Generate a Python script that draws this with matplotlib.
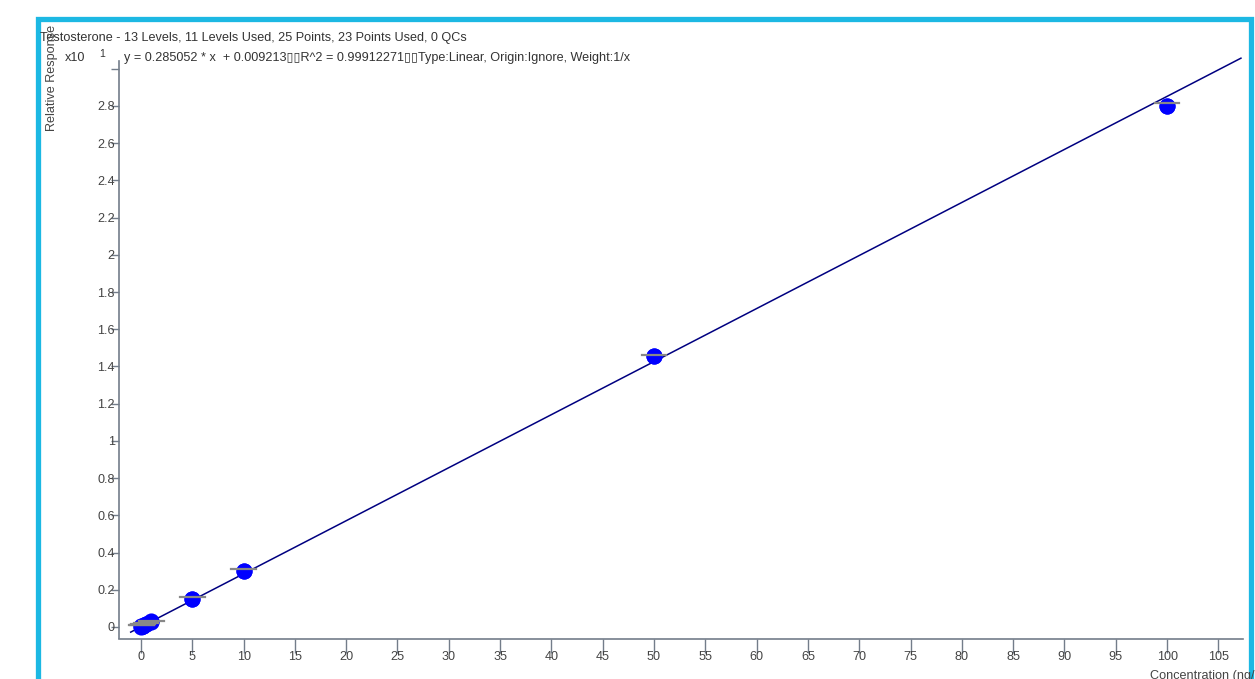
import matplotlib

matplotlib.use("Agg")
import matplotlib.pyplot as plt
from matplotlib.patches import Rectangle
import numpy as np

plt.rcParams["font.family"] = ["Liberation Sans", "DejaVu Sans"]

# calibration levels (ng/mL) and measured relative responses (raw units)
conc = [0.05, 0.05, 0.1, 0.1, 0.2, 0.2, 0.5, 0.5, 1, 1, 5, 5, 10, 10, 50, 50, 100, 100]
response = [0.02, 0.03, 0.03, 0.04, 0.07, 0.06, 0.15, 0.14, 0.29, 0.30,
            1.50, 1.49, 3.01, 3.02, 14.55, 14.56, 28.00, 28.01]

# level mean markers (gray bars)
level_conc = [0.05, 0.1, 0.2, 0.5, 1, 5, 10, 50, 100]
level_mean = [0.10, 0.12, 0.16, 0.22, 0.30, 1.61, 3.12, 14.60, 28.15]

slope = 0.285052
intercept = 0.009213
fit_range = [-1.0, 107.2]
scale = 10.0

x_ticks = list(range(0, 110, 5))
y_ticks = [0, 0.2, 0.4, 0.6, 0.8, 1, 1.2, 1.4, 1.6, 1.8, 2, 2.2, 2.4, 2.6, 2.8, 3.0]
y_labels = ["0", "0.2", "0.4", "0.6", "0.8", "1", "1.2", "1.4", "1.6", "1.8",
            "2", "2.2", "2.4", "2.6", "2.8", ""]

W, H = 1255, 679
fig = plt.figure(figsize=(W / 100, H / 100), dpi=100)
ax = fig.add_axes([119 / W, 1 - 639 / H, (1243 - 119) / W, (639 - 65) / H])

axis_col = "#737d8a"
text_col = "#444444"
fs = 9.1

fx = np.array(fit_range)
ax.plot(fx, (slope * fx + intercept) / scale, color="#000080", lw=1.1, zorder=2, clip_on=False)

ax.scatter(conc, np.array(response) / scale, s=135, color="#0000ff", zorder=3, linewidths=0)
for c, m in zip(level_conc, level_mean):
    ax.plot([c - 1.2, c + 1.2], [m / scale, m / scale], color="#888888", lw=1.6, zorder=4)

ax.set_xlim(-2.14, 107.4)
ax.set_ylim(-0.0645, 3.02)
ax.set_xticks(x_ticks)
ax.set_yticks(y_ticks)
ax.set_yticklabels(y_labels)

for side in ("top", "right"):
    ax.spines[side].set_visible(False)
for side in ("left", "bottom"):
    ax.spines[side].set_color(axis_col)
    ax.spines[side].set_linewidth(1.2)
ax.spines["left"].set_bounds(-0.058, 3.04)

ax.tick_params(axis="x", direction="out", length=10, width=1, color=axis_col,
               labelcolor=text_col, labelsize=fs, pad=-1)
ax.tick_params(axis="y", direction="out", length=6, width=1, color=axis_col,
               labelcolor=text_col, labelsize=fs, pad=-3)

fig.text(40 / W, 1 - 38 / H, "Testosterone - 13 Levels, 11 Levels Used, 25 Points, 23 Points Used, 0 QCs",
         fontsize=fs, color="#333333", va="center", ha="left")
fig.text(52 / W, 1 - 78 / H, "Relative Response", rotation=90, fontsize=fs,
         color=text_col, va="center", ha="center")
fig.text(65 / W, 1 - 58 / H, "x10", fontsize=fs, color="#333333", va="center", ha="left")
fig.text(99 / W, 1 - 54 / H, "1", fontsize=7.5, color="#333333", va="center", ha="left")
fig.text(124 / W, 1 - 58 / H,
         "y = 0.285052 * x  + 0.009213\u25af\u25afR^2 = 0.99912271\u25af\u25afType:Linear, Origin:Ignore, Weight:1/x",
         fontsize=fs, color="#333333", va="center", ha="left")
fig.text(1150 / W, 1 - 676 / H, "Concentration (ng/mL)", fontsize=fs, color=text_col,
         va="center", ha="left")

fig.add_artist(Rectangle((37.5 / W, -0.05), (1250.5 - 37.5) / W, 1.05 - 18.5 / H,
                         transform=fig.transFigure, fill=False, edgecolor="#1cb8e3", lw=3.8))

fig.savefig("out.png", dpi=100)
